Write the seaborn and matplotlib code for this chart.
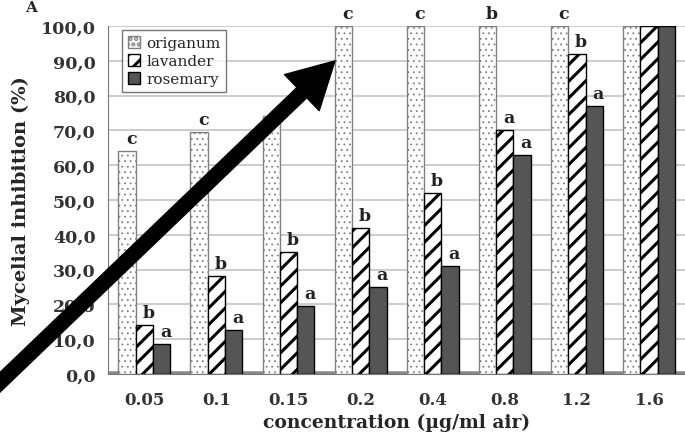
import numpy as np
import pandas as pd
import matplotlib
matplotlib.use("Agg")
import matplotlib.pyplot as plt
import seaborn as sns

# --- datos ---
concentrations = ["0.05", "0.1", "0.15", "0.2", "0.4", "0.8", "1.2", "1.6"]
oils = ["origanum", "lavander", "rosemary"]
origanum = [64, 69.5, 74, 100, 100, 100, 100, 100]
lavander = [14, 28, 35, 42, 52, 70, 92, 100]
rosemary = [8.5, 12.5, 19.5, 25, 31, 63, 77, 100]
letters_origanum = ["c", "c", "", "c", "c", "b", "c", ""]
letters_lavander = ["b", "b", "b", "b", "b", "a", "b", ""]
letters_rosemary = ["a", "a", "a", "a", "a", "a", "a", ""]

df = pd.DataFrame({
    "conc": concentrations * 3,
    "oil": [o for o in oils for _ in concentrations],
    "value": origanum + lavander + rosemary,
})

sns.set_style("white")
plt.rcParams["font.family"] = ["DejaVu Serif"]
plt.rcParams["hatch.linewidth"] = 2.2

fig = plt.figure(figsize=(6.85, 4.39), dpi=100)
ax = fig.add_axes([0.158, 0.146, 0.842, 0.7925])

sns.barplot(data=df, x="conc", y="value", hue="oil", order=concentrations,
            hue_order=oils, width=0.72, legend=False, ax=ax, zorder=3)

# estilos de cada serie
styles = {
    "origanum": dict(face="white", edge="#808080", hatch="...", hlw=0.6),
    "lavander": dict(face="white", edge="black", hatch="//", hlw=2.2),
    "rosemary": dict(face="#555555", edge="black", hatch=None, hlw=1.0),
}
for cont, oil in zip(ax.containers, oils):
    st = styles[oil]
    for p in cont.patches:
        p.set_facecolor(st["face"])
        p.set_edgecolor(st["edge"])
        p.set_linewidth(1.0)
        if st["hatch"]:
            p.set_hatch(st["hatch"])
            if hasattr(p, "set_hatch_linewidth"):
                p.set_hatch_linewidth(st["hlw"])

# letras de significancia
for cont, letters in zip(ax.containers, [letters_origanum, letters_lavander, letters_rosemary]):
    for p, lab in zip(cont.patches, letters):
        if lab:
            ax.annotate(lab, (p.get_x() + p.get_width() / 2, p.get_height()),
                        xytext=(3, 3), textcoords="offset points", ha="center", va="bottom",
                        fontsize=12.5, fontweight="bold", color="#222222", annotation_clip=False)

ax.set_ylim(0, 100)
ax.set_xlim(-0.5, len(concentrations) - 0.5)
ax.set_yticks(np.arange(0, 101, 10))
ax.set_yticklabels([f"{v:.1f}".replace(".", ",") for v in np.arange(0, 101, 10)])
ax.yaxis.grid(True, color="#c4c4c4", linewidth=1.2, zorder=0)
ax.set_axisbelow(True)
ax.axhline(0, color="#8a8a8a", linewidth=4, zorder=2)

for s in ["top", "right"]:
    ax.spines[s].set_visible(False)
ax.spines["left"].set_color("#777777")
ax.spines["bottom"].set_color("#777777")

ax.set_xticks(np.arange(0.5, len(concentrations) - 0.5, 1), minor=True)
ax.tick_params(axis="x", which="major", length=0, pad=12, labelsize=12)
ax.tick_params(axis="x", which="minor", length=5, color="#777777", direction="out")
ax.tick_params(axis="y", length=4, color="#777777", pad=5, labelsize=12.5)
for t in ax.get_xticklabels() + ax.get_yticklabels():
    t.set_fontweight("bold")
    t.set_color("#333333")

ax.set_xlabel("concentration (µg/ml air)", fontsize=13.5, fontweight="bold", labelpad=4)
ax.set_ylabel("Mycelial inhibition (%)", fontsize=14, fontweight="bold", labelpad=8)

leg = ax.legend(ax.containers, oils, loc="upper left", bbox_to_anchor=(0.01, 1.01),
                frameon=True, fancybox=False, edgecolor="#555555", fontsize=11,
                handlelength=0.8, handleheight=0.8, handletextpad=0.4,
                labelspacing=0.25, borderpad=0.4)
leg.get_frame().set_linewidth(1.0)
leg.set_zorder(5)

# letra del panel
fig.text(0.045, 0.998, "A", fontsize=11, fontweight="bold", va="top", ha="center")

# flecha negra superpuesta
ax.annotate("", xy=(0.489, 0.859), xytext=(-0.01, 0.112),
            xycoords="figure fraction", textcoords="figure fraction",
            arrowprops=dict(arrowstyle="simple,head_length=1.1,head_width=1.2,tail_width=0.34",
                            color="black", mutation_scale=30, shrinkA=0, shrinkB=0),
            annotation_clip=False, zorder=10)

fig.savefig("out.png", dpi=100)
